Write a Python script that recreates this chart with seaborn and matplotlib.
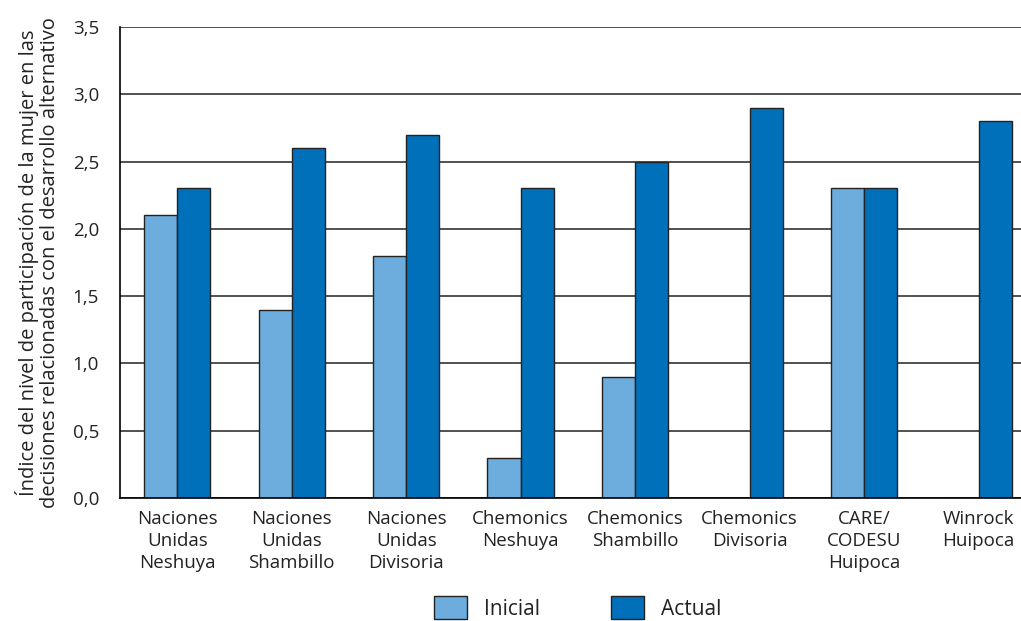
import numpy as np
import pandas as pd
import seaborn as sns
import matplotlib.pyplot as plt
from matplotlib.ticker import FixedLocator, FuncFormatter

# data
proyectos = ["Naciones\nUnidas\nNeshuya", "Naciones\nUnidas\nShambillo", "Naciones\nUnidas\nDivisoria",
             "Chemonics\nNeshuya", "Chemonics\nShambillo", "Chemonics\nDivisoria",
             "CARE/\nCODESU\nHuipoca", "Winrock\nHuipoca"]
inicial = [2.1, 1.4, 1.8, 0.3, 0.9, 0.0, 2.3, 0.0]
actual = [2.3, 2.6, 2.7, 2.3, 2.5, 2.9, 2.3, 2.8]
series = ["Inicial", "Actual"]
colores = ["#6cadde", "#0070ba"]

df = pd.DataFrame({"Proyecto": proyectos * 2,
                   "Valor": inicial + actual,
                   "Serie": [series[0]] * len(proyectos) + [series[1]] * len(proyectos)})

sns.set_style("white")
plt.rcParams['font.family'] = ['Open Sans', 'DejaVu Sans']

fig = plt.figure(figsize=(10.21, 6.21), dpi=100)
ax = fig.add_axes([120 / 1021, 1 - 498 / 621, 901 / 1021, 471 / 621])

ax.yaxis.grid(True, color="#333333", linewidth=1.2)
ax.set_axisbelow(True)
sns.barplot(data=df, x="Proyecto", y="Valor", hue="Serie", palette=colores, width=0.58, saturation=1,
            edgecolor="#222222", linewidth=1.0, ax=ax, legend=True)

ax.set_ylim(0, 3.5)
ax.set_xlim(-0.5, 7.37)
ax.set_yticks(np.arange(0, 3.51, 0.5))
ax.yaxis.set_major_formatter(FuncFormatter(lambda v, p: f"{v:.1f}".replace(".", ",")))
ax.tick_params(axis="y", which="major", length=12, width=1, color="black", direction="out", pad=3, labelsize=13.5, labelcolor="#222222")
ax.tick_params(axis="x", which="major", length=0, pad=9, labelsize=13.5, labelcolor="#222222")
for lbl in ax.get_xticklabels():
    lbl.set_linespacing(1.28)
ax.xaxis.set_minor_locator(FixedLocator(np.arange(-0.5, 7.5, 1.0)))
ax.tick_params(axis="x", which="minor", length=13, width=1, color="black", direction="out")
ax.set_xlabel("")
ax.set_ylabel("Índice del nivel de participación de la mujer en las\ndecisiones relacionadas con el desarrollo alternativo",
              fontsize=14.5, color="#222222", labelpad=9, linespacing=1.08)

for s in ["top", "right"]:
    ax.spines[s].set_visible(False)
ax.spines["left"].set_color("black")
ax.spines["bottom"].set_color("black")
ax.spines["left"].set_linewidth(1.2)
ax.spines["bottom"].set_linewidth(1.2)

ax.legend(loc="lower center", bbox_to_anchor=(0.508, -0.298), ncol=2, frameon=False,
          handlelength=1.6, handleheight=1.3, columnspacing=3.4, handletextpad=0.8, fontsize=15)
leg = ax.get_legend()
for t in leg.get_texts():
    t.set_color("#222222")

fig.savefig("out.png", dpi=100)
